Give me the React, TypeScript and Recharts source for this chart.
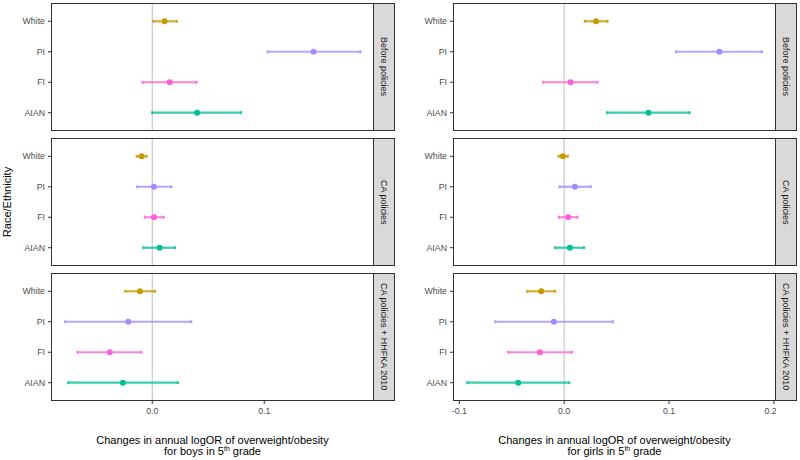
import { ScatterChart, Scatter, XAxis, YAxis, ErrorBar, ReferenceLine } from "recharts"

const races = ["White", "PI", "FI", "AIAN"]
const raceColors = ["#C49A00", "#A58AFF", "#FB61D7", "#00C094"]
const periods = ["Before policies", "CA policies", "CA policies + HHFKA 2010"]

// boys, one row per period, values in races order
const boysEst = [
  [0.011, 0.144, 0.0155, 0.04],
  [-0.0095, 0.0015, 0.0015, 0.0066],
  [-0.011, -0.0214, -0.038, -0.0262],
]
const boysLow = [
  [0.001, 0.103, -0.0086, 0.0],
  [-0.0139, -0.0134, -0.0065, -0.008],
  [-0.0241, -0.0777, -0.0666, -0.075],
]
const boysHigh = [
  [0.022, 0.186, 0.0396, 0.0792],
  [-0.005, 0.017, 0.0102, 0.0203],
  [0.0024, 0.0348, -0.0098, 0.023],
]

// girls
const girlsEst = [
  [0.0305, 0.148, 0.0061, 0.0804],
  [-0.0012, 0.0102, 0.0038, 0.0054],
  [-0.0219, -0.0098, -0.0231, -0.0438],
]
const girlsLow = [
  [0.0197, 0.1067, -0.02, 0.041],
  [-0.0054, -0.0044, -0.005, -0.0086],
  [-0.0352, -0.0657, -0.0533, -0.0924],
]
const girlsHigh = [
  [0.0413, 0.1886, 0.0318, 0.1197],
  [0.0035, 0.0254, 0.0127, 0.019],
  [-0.0086, 0.0464, 0.0073, 0.0048],
]

const boysTicks = [0, 0.1]
const girlsTicks = [-0.1, 0, 0.1, 0.2]

const font = "Arial, 'Liberation Sans', Helvetica, sans-serif"
const panelTops = [3, 138, 273]
const panelH = 128
const stripW = 22

function Panel({ left, yAxisW, plotW, top, est, low, high, domain, ticks, showX }: any) {
  const xAxisH = showX ? 22 : 0
  return (
    <div style={{ position: "absolute", left, top }}>
      <ScatterChart
        width={yAxisW + plotW}
        height={panelH + xAxisH}
        margin={{ top: 0, right: 0, bottom: 0, left: 0 }}
      >
        <XAxis
          type="number"
          dataKey="x"
          domain={domain}
          ticks={ticks}
          allowDataOverflow
          hide={!showX}
          height={xAxisH}
          axisLine={false}
          tickLine={{ stroke: "#333333" }}
          tickSize={3}
          tickMargin={4}
          tickFormatter={(v: number) => v.toFixed(1)}
          tick={{ fill: "#4D4D4D", fontSize: 8.8, fontFamily: font }}
        />
        <YAxis
          type="number"
          dataKey="pos"
          domain={[0.4, 4.6]}
          ticks={[1, 2, 3, 4]}
          reversed
          allowDataOverflow
          width={yAxisW}
          axisLine={false}
          tickLine={{ stroke: "#333333" }}
          tickSize={3}
          tickMargin={3}
          tickFormatter={(v: number) => races[v - 1] ?? ""}
          tick={{ fill: "#4D4D4D", fontSize: 8.8, fontFamily: font }}
        />
        <ReferenceLine x={0} stroke="#BEBEBE" strokeWidth={1} />
        {races.map((race, i) => (
          <Scatter
            key={race}
            name={race}
            data={[{ x: est[i], pos: i + 1, err: [est[i] - low[i], high[i] - est[i]] }]}
            fill={raceColors[i]}
            shape={(p: any) => <circle cx={p.cx} cy={p.cy} r={3} fill={raceColors[i]} />}
            isAnimationActive={false}
          >
            <ErrorBar
              dataKey="err"
              direction="x"
              width={1.5}
              strokeWidth={2.2}
              stroke={raceColors[i]}
              strokeOpacity={0.78}
              isAnimationActive={false}
            />
          </Scatter>
        ))}
      </ScatterChart>
      <div
        style={{
          position: "absolute",
          left: yAxisW,
          top: 0,
          width: plotW,
          height: panelH,
          border: "1px solid #333333",
          boxSizing: "border-box",
          pointerEvents: "none",
        }}
      />
    </div>
  )
}

function Strip({ left, top, label }: any) {
  return (
    <div
      style={{
        position: "absolute",
        left,
        top,
        width: stripW,
        height: panelH,
        background: "#D9D9D9",
        border: "1px solid #333333",
        boxSizing: "border-box",
        display: "flex",
        alignItems: "center",
        justifyContent: "center",
        writingMode: "vertical-rl",
        fontFamily: font,
        fontSize: 9,
        color: "#1A1A1A",
        whiteSpace: "nowrap",
      }}
    >
      {label}
    </div>
  )
}

function XTitle({ center, who }: any) {
  return (
    <div
      style={{
        position: "absolute",
        left: center - 150,
        top: 435,
        width: 300,
        textAlign: "center",
        fontFamily: font,
        fontSize: 11,
        lineHeight: "11px",
        color: "#000",
      }}
    >
      Changes in annual logOR of overweight/obesity
      <br />
      for {who} in 5<span style={{ fontSize: 7, position: "relative", top: -4 }}>th</span> grade
    </div>
  )
}

export default function App() {
  const cols = [
    { left: 0, yAxisW: 51, plotW: 323, est: boysEst, low: boysLow, high: boysHigh, domain: [-0.0904, 0.198], ticks: boysTicks },
    { left: 400, yAxisW: 53, plotW: 323, est: girlsEst, low: girlsLow, high: girlsHigh, domain: [-0.106, 0.202], ticks: girlsTicks },
  ]
  return (
    <div style={{ position: "absolute", left: 0, top: 0, width: 800, height: 460, background: "#fff", overflow: "hidden" }}>
      {cols.map((c, ci) =>
        periods.map((p, pi) => (
          <div key={`${ci}-${pi}`}>
            <Panel
              left={c.left}
              yAxisW={c.yAxisW}
              plotW={c.plotW}
              top={panelTops[pi]}
              est={c.est[pi]}
              low={c.low[pi]}
              high={c.high[pi]}
              domain={c.domain}
              ticks={c.ticks}
              showX={pi === 2}
            />
            <Strip left={c.left + c.yAxisW + c.plotW - 1} top={panelTops[pi]} label={p} />
          </div>
        ))
      )}
      <div
        style={{
          position: "absolute",
          left: 7 - 60,
          top: 202 - 7,
          width: 120,
          height: 14,
          textAlign: "center",
          transform: "rotate(-90deg)",
          fontFamily: font,
          fontSize: 11,
          lineHeight: "14px",
          color: "#000",
        }}
      >
        Race/Ethnicity
      </div>
      <XTitle center={212.5} who="boys" />
      <XTitle center={614.5} who="girls" />
    </div>
  )
}
